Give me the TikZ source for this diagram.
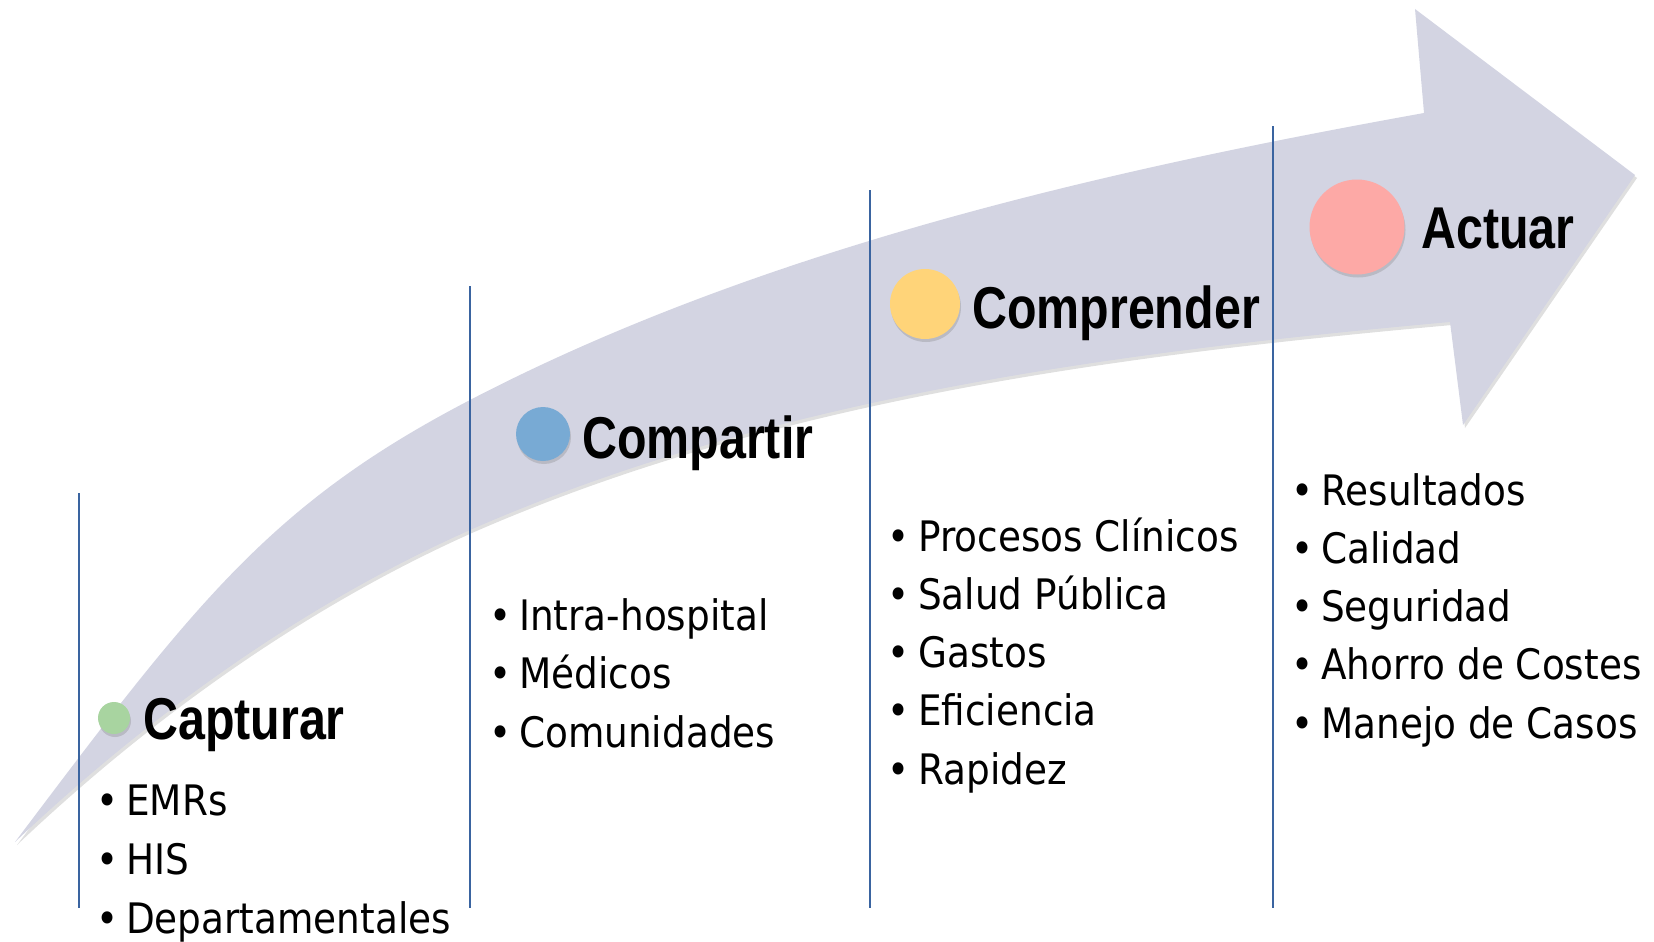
\documentclass[tikz,border=0pt]{standalone}
\usepackage{fontspec}
\usetikzlibrary{shadows}
\newfontfamily\headfont[FakeStretch=0.82]{Liberation Sans}
\newfontfamily\bodyfont[FakeStretch=0.89]{DejaVu Sans}
\definecolor{arrowfill}{RGB}{211,212,226}
\definecolor{linecol}{RGB}{58,100,160}
\definecolor{cgreen}{RGB}{168,212,160}
\definecolor{cblue}{RGB}{120,170,212}
\definecolor{cyellow}{RGB}{255,212,121}
\definecolor{cpink}{RGB}{253,169,166}
\tikzset{
  vline/.style={draw=linecol, line width=2.4pt},
  dot/.style={circle, inner sep=0pt, draw=none, drop shadow={shadow xshift=1pt, shadow yshift=-3pt, opacity=0.3}},
  head/.style={inner sep=0pt, anchor=base west, font=\headfont\bfseries\fontsize{59}{59}\selectfont},
  item/.style={inner sep=0pt, anchor=base west, font=\bodyfont\fontsize{42}{42}\selectfont},
  bul/.style={inner sep=0pt, anchor=base, font=\bodyfont\fontsize{42}{42}\selectfont}
}
\begin{document}
\begin{tikzpicture}[x=1pt,y=-1pt]
\useasboundingbox (0,0) rectangle (1654,942);
% arrow
\coordinate (tail) at (15,842);
\coordinate (um) at (470,400);
\coordinate (un) at (1424,113);
\coordinate (ht) at (1415,9);
\coordinate (tip) at (1635,175);
\coordinate (hb) at (1463,425);
\coordinate (ln) at (1450,322);
\coordinate (lm) at (470,530);
\fill[arrowfill, drop shadow={shadow xshift=2pt, shadow yshift=-3pt, opacity=0.25}]
  (tail) .. controls (195,603) and (270,504) .. (um)
  .. controls (770,244) and (1124,167) .. (un)
  -- (ht) -- (tip) -- (hb) -- (ln)
  .. controls (1130,351) and (780,394) .. (lm)
  .. controls (320,597) and (165,700) .. (tail) -- cycle;
% vertical separators
\coordinate (l1t) at (79,493);   \coordinate (l1b) at (79,908);
\coordinate (l2t) at (470,286);  \coordinate (l2b) at (470,908);
\coordinate (l3t) at (870,190);  \coordinate (l3b) at (870,908);
\coordinate (l4t) at (1273,126); \coordinate (l4b) at (1273,908);
\draw[vline] (l1t) -- (l1b);
\draw[vline] (l2t) -- (l2b);
\draw[vline] (l3t) -- (l3b);
\draw[vline] (l4t) -- (l4b);
% circles
\node[dot, fill=cgreen, minimum size=32pt] (d1) at (114,718) {};
\node[dot, fill=cblue, minimum size=54pt] (d2) at (543,434) {};
\node[dot, fill=cyellow, minimum size=70pt] (d3) at (925,304) {};
\node[dot, fill=cpink, minimum size=95pt] (d4) at (1357,227) {};
% headings
\node[head] (h1) at (143,739) {Capturar};
\node[head] (h2) at (582,458) {Compartir};
\node[head] (h3) at (972,328) {Comprender};
\node[head] (h4) at (1421,248) {Actuar};
% lists
\foreach \t [count=\i] in {EMRs, HIS, Departamentales} {
  \node[item] (a\i) at (126,{815+59*(\i-1)}) {\t};
  \node[bul] (ab\i) at (108,{815+59*(\i-1)}) {•};
}
\foreach \t [count=\i] in {Intra-hospital, Médicos, Comunidades} {
  \node[item] (b\i) at (519,{630+58.5*(\i-1)}) {\t};
  \node[bul] (bb\i) at (501,{630+58.5*(\i-1)}) {•};
}
\foreach \t [count=\i] in {Procesos Clínicos, Salud Pública, Gastos, Eficiencia, Rapidez} {
  \node[item] (c\i) at (918,{551+58.3*(\i-1)}) {\t};
  \node[bul] (cb\i) at (899,{551+58.3*(\i-1)}) {•};
}
\foreach \t [count=\i] in {Resultados, Calidad, Seguridad, Ahorro de Costes, Manejo de Casos} {
  \node[item] (e\i) at (1321,{505+58.3*(\i-1)}) {\t};
  \node[bul] (eb\i) at (1303,{505+58.3*(\i-1)}) {•};
}
\end{tikzpicture}
\end{document}
